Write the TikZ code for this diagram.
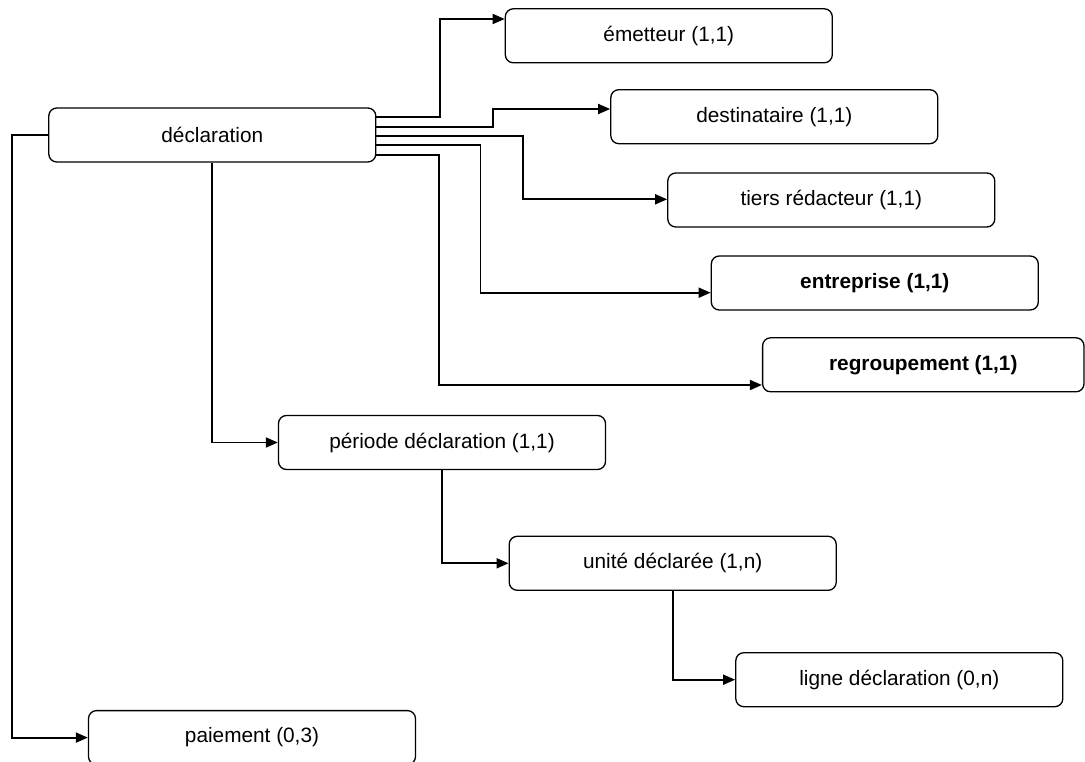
\documentclass[tikz,border=0pt]{standalone}
\usepackage{fontspec}
\setmainfont{Liberation Sans}
\usetikzlibrary{arrows.meta}
\begin{document}
\begin{tikzpicture}[x=1pt,y=-1pt,
  ent/.style={draw=black, line width=1.3pt, rounded corners=8pt, fill=white,
    minimum width=327pt, minimum height=54pt, inner sep=0pt,
    font=\fontsize{20.8}{25}\selectfont},
  entb/.style={ent, font=\fontsize{20.8}{25}\selectfont\bfseries},
  conn/.style={draw=black, line width=1.8pt,
    -{Triangle[length=12pt,width=10pt]}}]
\clip (0,0) rectangle (1085,762);
\fill[white] (0,0) rectangle (1085,762);
% boxes
\node[ent]  (decl)  at (212.3,135)   {déclaration};
\node[ent]  (emet)  at (668.8,35.8)  {émetteur (1,1)};
\node[ent]  (dest)  at (774.3,116.7) {destinataire (1,1)};
\node[ent]  (tiers) at (831.3,200)   {tiers rédacteur (1,1)};
\node[entb] (entr)  at (874.8,283)   {entreprise (1,1)};
\node[entb, minimum width=321.4pt] (regr) at (923.3,364.8) {regroupement (1,1)};
\node[ent]  (peri)  at (442,442.5)   {période déclaration (1,1)};
\node[ent]  (unit)  at (672.7,563.3) {unité déclarée (1,n)};
\node[ent]  (ligne) at (899.3,679.7) {ligne déclaration (0,n)};
\node[ent]  (paie)  at (252,737.6)   {paiement (0,3)};
% connectors from declaration's east side
\draw[conn] ([yshift=17.7pt]decl.east) -- ++(63.3,0) |- ([yshift=16.8pt]emet.west);
\draw[conn] ([yshift=8.3pt]decl.east) -- ++(116.7,0) |- ([yshift=7.7pt]dest.west);
\draw[conn] ([yshift=-0.7pt]decl.east) -- ++(146.3,0) |- ([yshift=0.7pt]tiers.west);
\draw[conn] ([yshift=-10pt]decl.east) -- ++(104,0) |- ([yshift=-9.7pt]entr.west);
\draw[conn] ([yshift=-20pt]decl.east) -- ++(62.4,0) |- ([yshift=-20.2pt]regr.west);
% hierarchy downwards
\draw[conn] (decl.south) |- (peri.west);
\draw[conn] (peri.south) |- (unit.west);
\draw[conn] (unit.south) |- (ligne.west);
% paiement
\draw[conn] (decl.west) -- ++(-35.8,0) |- (paie.west);
\end{tikzpicture}
\end{document}
